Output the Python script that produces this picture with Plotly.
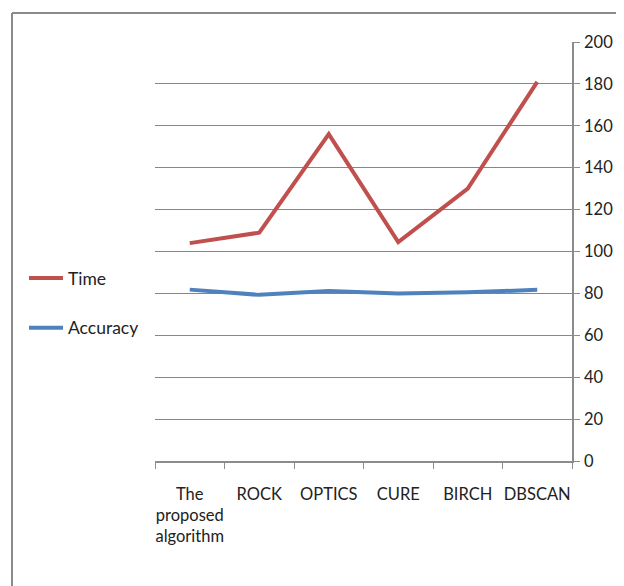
import plotly.graph_objects as go

categories = ["The<br>proposed<br>algorithm", "ROCK", "OPTICS", "CURE", "BIRCH", "DBSCAN"]
time_values = [104, 109, 156, 104.5, 130, 181]
accuracy_values = [81.8, 79.3, 81.2, 80, 80.5, 81.7]
y_ticks = [0, 20, 40, 60, 80, 100, 120, 140, 160, 180, 200]

FONT = "Lato, Roboto, sans-serif"
FS = 16.5
OFF = 8  # page body margin

fig = go.Figure()
fig.add_trace(go.Scatter(x=categories, y=time_values, name="Time", mode="lines",
                         line=dict(color="#C0504D", width=4), legendgroup="a"))
fig.add_trace(go.Scatter(x=categories, y=accuracy_values, name="Accuracy", mode="lines",
                         line=dict(color="#4F81BD", width=4), legendgroup="b"))

W, H = 624 - OFF, 586 - OFF
L, R, T, B = 155 - OFF, 52, 42 - OFF, 125
pw, ph = W - L - R, H - T - B

def px_x(x):
    return (x - OFF - L) / pw

def px_y(y):
    return (H - B - (y - OFF)) / ph

fig.update_layout(
    width=W, height=H,
    margin=dict(l=L, r=R, t=T, b=B, pad=0, autoexpand=False),
    paper_bgcolor="white", plot_bgcolor="white",
    font=dict(family=FONT, size=FS, color="#222222"),
    showlegend=True,
    legend=dict(x=px_x(24), y=px_y(260), xanchor="left", yanchor="top",
                traceorder="grouped", tracegroupgap=24,
                font=dict(family=FONT, size=FS + 1, color="#222222"),
                itemwidth=34, bgcolor="rgba(0,0,0,0)"),
    xaxis=dict(type="category", range=[-0.5, 5.5], showgrid=False, showline=True,
               linecolor="#8c8c8c", linewidth=1.5,
               ticks="outside", ticklen=6, tickcolor="#8c8c8c", tickson="boundaries",
               ticklabelstandoff=17, tickangle=0, automargin=False,
               tickfont=dict(family=FONT, size=FS, color="#222222"), fixedrange=True),
    yaxis=dict(side="right", range=[0, 200], tickvals=y_ticks, showgrid=True,
               gridcolor="#878787", gridwidth=1.4, showline=True, linecolor="#8c8c8c",
               linewidth=1.5, ticks="outside", ticklen=6, tickcolor="#8c8c8c",
               zeroline=False, automargin=False, ticklabelstandoff=1,
               tickfont=dict(family=FONT, size=FS, color="#222222"), fixedrange=True),
    shapes=[
        dict(type="line", xref="paper", yref="paper", x0=px_x(12), x1=px_x(640),
             y0=px_y(13), y1=px_y(13), line=dict(color="#8a8a8a", width=2)),
        dict(type="line", xref="paper", yref="paper", x0=px_x(12), x1=px_x(12),
             y0=px_y(13), y1=px_y(600), line=dict(color="#8a8a8a", width=2)),
    ],
)

fig.write_html("out.html")
